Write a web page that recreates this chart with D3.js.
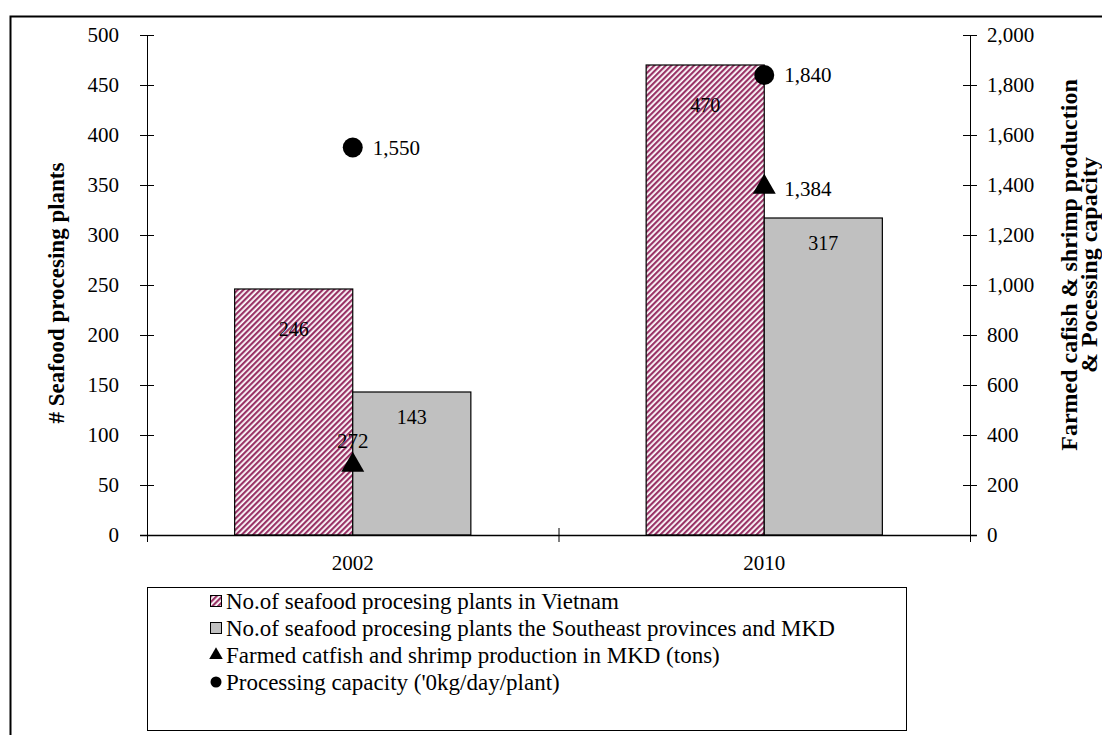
<!DOCTYPE html>
<html>
<head>
<meta charset="utf-8">
<script src="https://cdn.jsdelivr.net/npm/d3@7"></script>
<style>
	body { margin: 0; background: #fff; }
	svg text { font-family: 'Liberation Serif', 'DejaVu Serif', serif; fill: #000; }
</style>
</head>
<body>
<div id="chart"></div>
<script>
/*
*	Chart data
*/
var years = ['2002', '2010'];
var plantsVietnam = [246, 470];
var plantsSoutheast = [143, 317];
var catfishProduction = [272, 1384];
var processingCapacity = [1550, 1840];

var leftTicks = [0, 50, 100, 150, 200, 250, 300, 350, 400, 450, 500];
var rightTicks = [0, 200, 400, 600, 800, 1000, 1200, 1400, 1600, 1800, 2000];

var legendLabels = [
	'No.of seafood procesing plants in Vietnam',
	'No.of seafood procesing plants the Southeast provinces and MKD',
	'Farmed catfish and shrimp production in MKD (tons)',
	"Processing capacity ('0kg/day/plant)"
];

/*
*	Layout
*/
var W = 1102, H = 735;
var plot = { left: 147, right: 970, top: 35, bottom: 535 };
var FS = 20;
var fmt = d3.format(',');

var svg = d3.select('#chart').append('svg')
	.attr('width', W)
	.attr('height', H);

var defs = svg.append('defs');
var pat = defs.append('pattern')
	.attr('id', 'hatch')
	.attr('patternUnits', 'userSpaceOnUse')
	.attr('width', 4)
	.attr('height', 4)
	.attr('patternTransform', 'rotate(45)');
pat.append('rect').attr('width', 4).attr('height', 4).attr('fill', '#fff');
pat.append('rect').attr('width', 2.2).attr('height', 4).attr('fill', '#993366');

// outer frame
svg.append('path')
	.attr('d', 'M10.5,' + (H + 2) + ' L10.5,16.5 L' + (W + 2) + ',16.5')
	.attr('fill', 'none')
	.attr('stroke', '#000')
	.attr('stroke-width', 2);

var x = d3.scaleBand().domain(years).range([plot.left, plot.right]);
var yL = d3.scaleLinear().domain([0, 500]).range([plot.bottom, plot.top]);
var yR = d3.scaleLinear().domain([0, 2000]).range([plot.bottom, plot.top]);

var barW = x.bandwidth() * 0.287;

// bars
var g = svg.append('g');
g.selectAll('.bar-vn')
	.data(plantsVietnam)
	.enter().append('rect')
	.attr('x', function (d, i) { return x(years[i]) + x.bandwidth() / 2 - barW; })
	.attr('y', function (d) { return yL(d); })
	.attr('width', barW)
	.attr('height', function (d) { return yL(0) - yL(d); })
	.attr('fill', 'url(#hatch)')
	.attr('stroke', '#000')
	.attr('stroke-width', 1.2);

g.selectAll('.bar-se')
	.data(plantsSoutheast)
	.enter().append('rect')
	.attr('x', function (d, i) { return x(years[i]) + x.bandwidth() / 2; })
	.attr('y', function (d) { return yL(d); })
	.attr('width', barW)
	.attr('height', function (d) { return yL(0) - yL(d); })
	.attr('fill', '#c0c0c0')
	.attr('stroke', '#000')
	.attr('stroke-width', 1.2);

// bar labels
var labelStyle = function (sel) {
	sel.attr('font-size', FS).attr('text-anchor', 'middle');
};
g.selectAll('.lbl-vn')
	.data(plantsVietnam)
	.enter().append('text')
	.call(labelStyle)
	.attr('x', function (d, i) { return x(years[i]) + x.bandwidth() / 2 - barW / 2; })
	.attr('y', function (d) { return yL(d) + 47; })
	.text(function (d) { return d; });

g.selectAll('.lbl-se')
	.data(plantsSoutheast)
	.enter().append('text')
	.call(labelStyle)
	.attr('x', function (d, i) { return x(years[i]) + x.bandwidth() / 2 + barW / 2; })
	.attr('y', function (d) { return yL(d) + 32; })
	.text(function (d) { return d; });

// axes
var axisL = svg.append('g')
	.attr('transform', 'translate(' + plot.left + ',0)')
	.call(d3.axisLeft(yL).tickValues(leftTicks).tickSize(7).tickPadding(21));
var axisR = svg.append('g')
	.attr('transform', 'translate(' + plot.right + ',0)')
	.call(d3.axisRight(yR).tickValues(rightTicks).tickFormat(fmt).tickSize(7).tickPadding(10));
[axisL, axisR].forEach(function (a) {
	a.attr('font-family', null);
	a.selectAll('.tick text').attr('font-size', 21);
});
// ticks crossing the axis line
axisL.selectAll('.tick line').attr('x1', 7);
axisR.selectAll('.tick line').attr('x1', -7);
axisL.select('.domain').attr('d', 'M0.5,' + plot.top + 'V' + plot.bottom);
axisR.select('.domain').attr('d', 'M0.5,' + plot.top + 'V' + plot.bottom);

// bottom axis
var axisB = svg.append('g').attr('transform', 'translate(0,' + plot.bottom + ')');
axisB.append('line')
	.attr('x1', plot.left - 7).attr('x2', plot.right + 7)
	.attr('y1', 0.5).attr('y2', 0.5)
	.attr('stroke', '#000').attr('stroke-width', 1.5);
var catEdges = [plot.left, x(years[1]), plot.right];
axisB.selectAll('.ctick')
	.data(catEdges)
	.enter().append('line')
	.attr('x1', function (d) { return d + 0.5; })
	.attr('x2', function (d) { return d + 0.5; })
	.attr('y1', -7).attr('y2', 7)
	.attr('stroke', '#000');
axisB.selectAll('.clabel')
	.data(years)
	.enter().append('text')
	.attr('x', function (d) { return x(d) + x.bandwidth() / 2; })
	.attr('y', 35)
	.attr('text-anchor', 'middle')
	.attr('font-size', 21)
	.text(function (d) { return d; });

// markers
var cx = function (i) { return x(years[i]) + x.bandwidth() / 2; };
var tri = d3.symbol().type(d3.symbolTriangle).size(230);
svg.selectAll('.tri')
	.data(catfishProduction)
	.enter().append('path')
	.attr('d', tri)
	.attr('transform', function (d, i) { return 'translate(' + cx(i) + ',' + (yR(d) - 2) + ')'; })
	.attr('fill', '#000');
svg.selectAll('.dot')
	.data(processingCapacity)
	.enter().append('circle')
	.attr('cx', function (d, i) { return cx(i); })
	.attr('cy', function (d) { return yR(d); })
	.attr('r', 10)
	.attr('fill', '#000');

// marker labels
svg.selectAll('.dot-lbl')
	.data(processingCapacity)
	.enter().append('text')
	.attr('x', function (d, i) { return cx(i) + 20; })
	.attr('y', function (d) { return yR(d) + 7; })
	.attr('font-size', 21)
	.text(function (d) { return fmt(d); });
svg.selectAll('.tri-lbl')
	.data(catfishProduction)
	.enter().append('text')
	.attr('x', function (d, i) { return i === 0 ? cx(i) : cx(i) + 20; })
	.attr('y', function (d, i) { return i === 0 ? yR(d) - 19 : yR(d) + 7; })
	.attr('text-anchor', function (d, i) { return i === 0 ? 'middle' : 'start'; })
	.attr('font-size', 21)
	.text(function (d) { return fmt(d); });

// axis titles
svg.append('text')
	.attr('transform', 'translate(64,' + 293 + ') rotate(-90)')
	.attr('text-anchor', 'middle')
	.attr('font-size', 23)
	.attr('font-weight', 'bold')
	.text('# Seafood procesing plants');
var rt = svg.append('text')
	.attr('transform', 'translate(1077,265) rotate(-90)')
	.attr('text-anchor', 'middle')
	.attr('font-size', 24)
	.attr('font-weight', 'bold');
rt.append('tspan').attr('x', 0).attr('dy', 0).text('Farmed cafish  & shrimp production');
rt.append('tspan').attr('x', 0).attr('dy', 20).text('& Pocessing capacity');

/*
*	Legend
*/
var lg = svg.append('g');
lg.append('rect')
	.attr('x', 147.5).attr('y', 587.5)
	.attr('width', 759).attr('height', 143)
	.attr('fill', '#fff')
	.attr('stroke', '#000')
	.attr('stroke-width', 1);

var rowY = d3.scalePoint().domain(d3.range(legendLabels.length)).range([601, 682]);
var items = lg.selectAll('.item')
	.data(legendLabels)
	.enter().append('g')
	.attr('transform', function (d, i) { return 'translate(216,' + rowY(i) + ')'; });

items.append('text')
	.attr('x', 10)
	.attr('y', 8)
	.attr('font-size', 23)
	.text(function (d) { return d; });

items.each(function (d, i) {
	var s = d3.select(this);
	if (i === 0) {
		s.append('rect').attr('x', -5.5).attr('y', -5.5).attr('width', 11).attr('height', 11)
			.attr('fill', 'url(#hatch)').attr('stroke', '#000');
	} else if (i === 1) {
		s.append('rect').attr('x', -5.5).attr('y', -5.5).attr('width', 11).attr('height', 11)
			.attr('fill', '#c0c0c0').attr('stroke', '#000');
	} else if (i === 2) {
		s.append('path').attr('d', d3.symbol().type(d3.symbolTriangle).size(80))
			.attr('fill', '#000');
	} else {
		s.append('circle').attr('r', 5.5).attr('fill', '#000');
	}
});
</script>
</body>
</html>
